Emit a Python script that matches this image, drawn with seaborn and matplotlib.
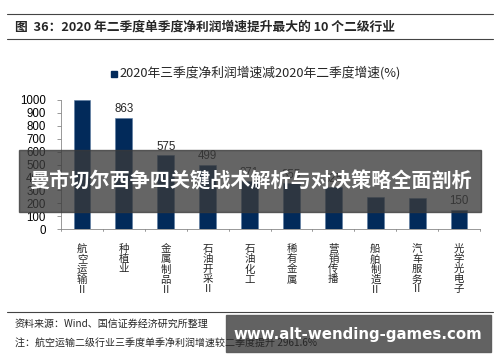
import seaborn as sns
import matplotlib.pyplot as plt
import pandas as pd
from matplotlib.patches import Rectangle
from matplotlib.lines import Line2D

industries = ['航空运输Ⅱ', '种植业', '金属制品Ⅱ', '石油开采Ⅱ', '石油化工',
              '稀有金属', '营销传播', '船舶制造Ⅱ', '汽车服务Ⅱ', '光学光电子']
growth_diff = [1000, 863, 575, 499, 371, 355, 325, 248, 242, 150]
shown_labels = ['', '863', '575', '499', '371', '355', '325', '', '', '150']
y_ticks = [0, 100, 200, 300, 400, 500, 600, 700, 800, 900, 1000]

legend_label = '2020年三季度净利润增速减2020年二季度增速(%)'
title = '图  36：2020 年二季度单季度净利润增速提升最大的 10 个二级行业'
source = '资料来源：Wind、国信证券经济研究所整理'
note = '注：航空运输二级行业三季度单季净利润增速较二季度提升 2961.6%'
banner = '曼市切尔西争四关键战术解析与对决策略全面剖析'
watermark = 'www.alt-wending-games.com'

sns.set_theme(style='white')
plt.rcParams['font.family'] = ['Noto Sans CJK SC', 'DejaVu Sans']

df = pd.DataFrame({'industry': industries, 'value': growth_diff})
navy = '#022a5a'

fig = plt.figure(figsize=(5, 3.62), dpi=100)
ax = fig.add_axes([0.122, 0.367, 0.838, 0.357])
sns.barplot(x='industry', y='value', data=df, ax=ax, color=navy, width=0.4,
            saturation=1, edgecolor='#5a7aa0', linewidth=0.4)

ax.set_ylim(0, 1000)
ax.set_xlim(-0.5, 9.5)
ax.set_yticks(y_ticks)
ax.set_yticklabels([str(t) for t in y_ticks], fontsize=8.3, color='black',
                   family='Liberation Sans')
ax.set_xticks(range(len(industries)))
ax.set_xticklabels(['\n'.join(s) for s in industries], fontsize=7.5,
                   linespacing=1.0, va='top')
ax.tick_params(axis='x', length=0, pad=11)
ax.tick_params(axis='y', length=3, width=0.6, color='#888888', left=True, pad=8)
# tick marks between categories
for b in [i - 0.5 for i in range(11)]:
    ax.plot([b, b], [0, -12], color='#888888', lw=0.6, clip_on=False)
ax.set_xlabel('')
ax.set_ylabel('')
sns.despine(ax=ax)
for side in ['left', 'bottom']:
    ax.spines[side].set_color('#888888')
    ax.spines[side].set_linewidth(0.6)

for i, lab in enumerate(shown_labels):
    if lab:
        ax.text(i, growth_diff[i] + 18, lab, ha='center', va='bottom',
                fontsize=8.3, family='Liberation Sans')

# legend
fig.patches.append(Rectangle((111 / 500, 1 - 76.5 / 362), 6 / 500, 6 / 362,
                             transform=fig.transFigure, color=navy))
fig.text(119 / 500, 1 - 73 / 362, legend_label, fontsize=9.2, va='center', ha='left')

# header
fig.add_artist(Line2D([7 / 500, 493 / 500], [1 - 14 / 362] * 2, color='#444444', lw=0.8))
fig.add_artist(Line2D([7 / 500, 493 / 500], [1 - 39 / 362] * 2, color='#444444', lw=0.8))
fig.text(15 / 500, 1 - 27 / 362, title, fontsize=9.2, fontweight='bold', va='center')

# footer
fig.add_artist(Line2D([7 / 500, 493 / 500], [1 - 312 / 362] * 2, color='#444444', lw=0.8))
fig.text(15 / 500, 1 - 324 / 362, source, fontsize=7.2, va='center')
fig.text(15 / 500, 1 - 343 / 362, note, fontsize=7.2, va='center')

# overlays
fig.patches.append(Rectangle((19 / 500, 1 - 212 / 362), 462 / 500, 62 / 362,
                             transform=fig.transFigure, color='#3a3a3a', alpha=0.78))
fig.text(250 / 500, 1 - 181 / 362, banner, fontsize=14.5, fontweight='bold',
         color='white', ha='center', va='center')
fig.patches.append(Rectangle((226 / 500, 1 - 352 / 362), 265 / 500, 37 / 362,
                             transform=fig.transFigure, color='#5a5a5a', alpha=0.95))
fig.text(358 / 500, 1 - 334 / 362, watermark, fontsize=10.8, fontweight='bold',
         color='white', ha='center', va='center', family='DejaVu Sans')

plt.savefig('out.png', dpi=100)
plt.close()
